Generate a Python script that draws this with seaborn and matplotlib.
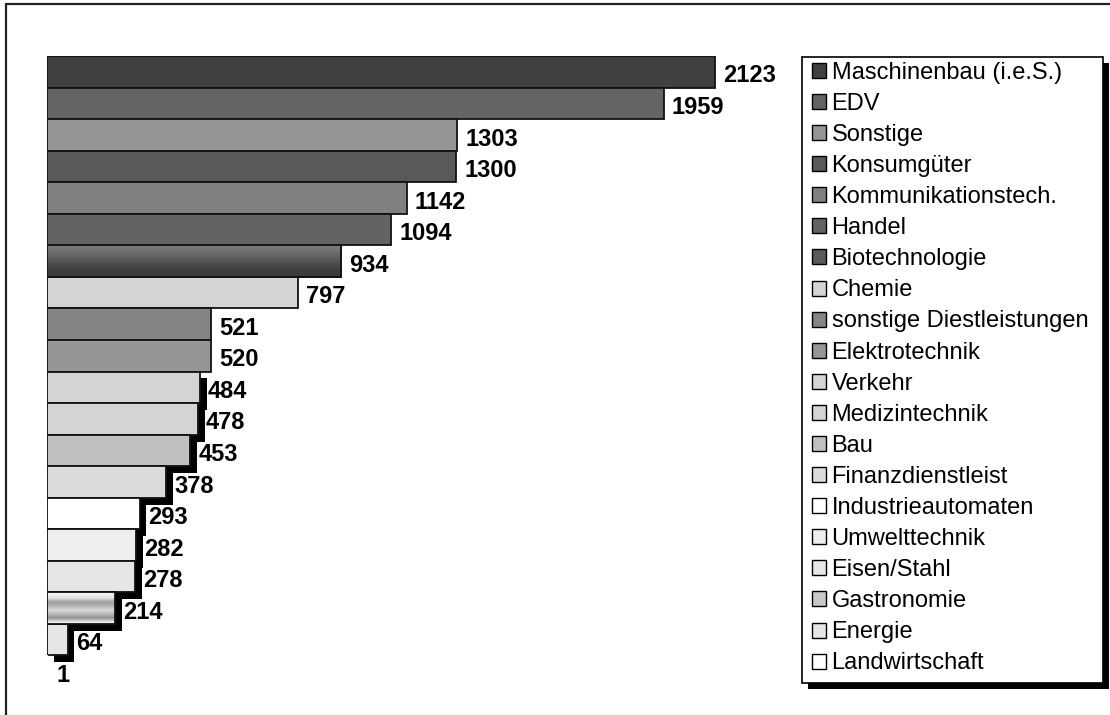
import numpy as np
import pandas as pd
import matplotlib
matplotlib.use("Agg")
import matplotlib.pyplot as plt
import matplotlib.patheffects as pe
from matplotlib.patches import Patch, Rectangle
from matplotlib.legend_handler import HandlerPatch
import seaborn as sns

branchen = ["Maschinenbau (i.e.S.)", "EDV", "Sonstige", "Konsumgüter",
            "Kommunikationstech.", "Handel", "Biotechnologie", "Chemie",
            "sonstige Diestleistungen", "Elektrotechnik", "Verkehr",
            "Medizintechnik", "Bau", "Finanzdienstleist", "Industrieautomaten",
            "Umwelttechnik", "Eisen/Stahl", "Gastronomie", "Energie",
            "Landwirtschaft"]
anzahl = [2123, 1959, 1303, 1300, 1142, 1094, 934, 797, 521, 520,
          484, 478, 453, 378, 293, 282, 278, 214, 64, 1]
farben = ["#404040", "#646464", "#969696", "#595959", "#808080", "#636363",
          "#5a5a5a", "#d4d4d4", "#858585", "#969696", "#d4d4d4", "#d4d4d4",
          "#c0c0c0", "#dcdcdc", "#ffffff", "#eeeeee", "#e6e6e6", "#c8c8c8",
          "#e6e6e6", "#ffffff"]

df = pd.DataFrame({"branche": branchen, "anzahl": anzahl})

plt.rcParams["font.family"] = ["Liberation Sans", "DejaVu Sans"]

W, H = 1110, 715
fig = plt.figure(figsize=(11.1, 7.15), dpi=100)
ax = fig.add_axes([47.4 / W, 28 / H, 747.6 / W, 631 / H])

sns.barplot(data=df, x="anzahl", y="branche", hue="branche", palette=farben,
            legend=False, orient="h", width=1.0, edgecolor="#111111",
            linewidth=1.3, saturation=1, ax=ax)
ax.axis("off")

bars = ax.patches
bars[-1].set_linewidth(0)
# shadow only on the lower bars (as in the original)
for b in bars[10:-1]:
    b.set_path_effects([pe.SimplePatchShadow(offset=(5, -5), shadow_rgbFace="black",
                                             alpha=1.0), pe.Normal()])

# gradient fills for Biotechnologie and Gastronomie
verlauf = {6: [0.47, 0.42, 0.36, 0.3, 0.25, 0.23],
           17: [0.95, 0.88, 0.62, 0.7, 0.85, 0.72, 0.58, 0.92]}
for i, g in verlauf.items():
    b = bars[i]
    x0, y0 = b.get_x(), b.get_y()
    w, h = b.get_width(), b.get_height()
    ax.imshow(np.array(g).reshape(-1, 1), cmap="gray", vmin=0, vmax=1,
              extent=[x0, x0 + w, y0 + h, y0], aspect="auto",
              interpolation="bilinear", zorder=1.01, clip_path=b)
    ax.add_patch(Rectangle((x0, y0), w, h, fill=False, edgecolor="#111111",
                           linewidth=1.3, zorder=1.02))
ax.set_xlim(0, 747.6 / 0.3145)
ax.set_ylim(len(branchen) - 0.5, -0.5)

for i, v in enumerate(anzahl):
    ax.annotate(str(v), xy=(v, i), xytext=(6, -3), textcoords="offset points",
                ha="left", va="center", fontsize=17, fontweight="bold")


def square(legend, orig_handle, xdescent, ydescent, width, height, fontsize):
    return Rectangle((-xdescent + 4, -ydescent), width, height)


handles = [Patch(facecolor=c, edgecolor="black", linewidth=1.0) for c in farben]
leg = fig.legend(handles, branchen, loc="upper left",
                 bbox_to_anchor=(802 / W, 32 / H, 301 / W, 626 / H),
                 mode="expand", borderaxespad=0, fontsize=17, frameon=False,
                 handlelength=0.6, handleheight=0.6, handletextpad=0.45,
                 labelspacing=0.385, borderpad=0.2,
                 handler_map={Patch: HandlerPatch(patch_func=square)})
leg.set_zorder(5)

# legend box with black drop shadow
box = (802 / W, 32 / H)
fig.patches.append(Rectangle((box[0] + 6 / W, box[1] - 6 / H), 301 / W, 626 / H,
                             transform=fig.transFigure, facecolor="black",
                             zorder=3.9))
fig.patches.append(Rectangle(box, 301 / W, 626 / H, transform=fig.transFigure,
                             facecolor="white", edgecolor="black",
                             linewidth=1.2, zorder=4))

# outer frame (only top and left edge are visible)
fig.patches.append(Rectangle((6 / W, -0.2), 1.5, 1.2 - 4 / H,
                             transform=fig.transFigure, fill=False,
                             edgecolor="#222222", linewidth=1.6, zorder=0))

fig.savefig("out.png", dpi=100)
